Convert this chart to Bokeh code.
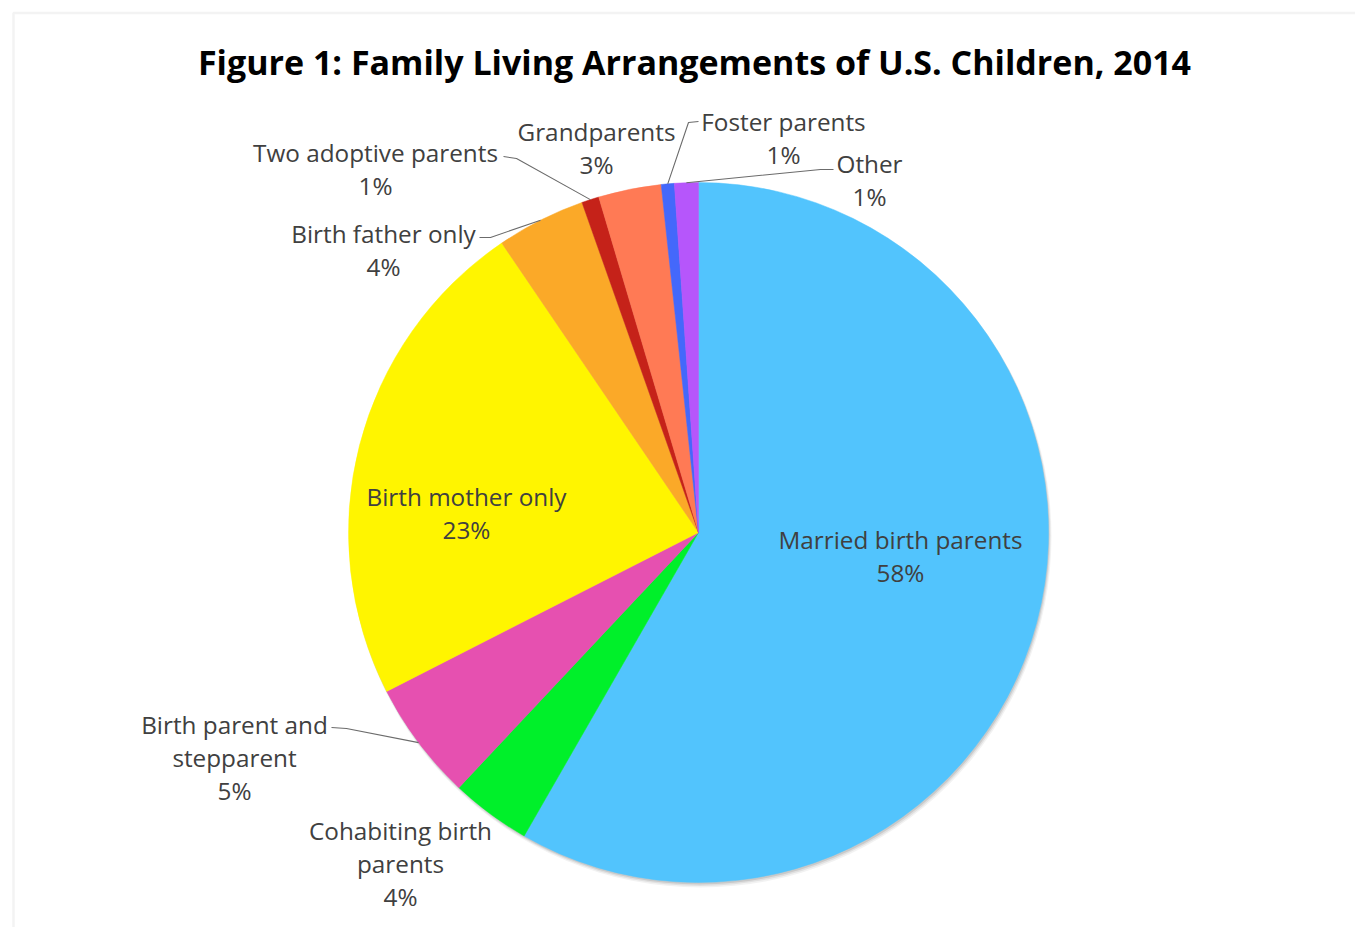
import math
from bokeh.plotting import figure
from bokeh.models import Range1d, ColumnDataSource, BoxAnnotation
from bokeh.core.properties import value
from bokeh.embed import file_html
from bokeh.resources import INLINE

# ---------------- data ----------------
title_text = "Figure 1: Family Living Arrangements of U.S. Children, 2014"
categories = ["Married birth parents", "Cohabiting birth\nparents", "Birth parent and\nstepparent",
              "Birth mother only", "Birth father only", "Two adoptive parents",
              "Grandparents", "Foster parents", "Other"]
shares = [58.3, 3.7, 5.5, 23.0, 4.1, 0.8, 2.9, 0.6, 1.1]
pct_labels = ["58%", "4%", "5%", "23%", "4%", "1%", "3%", "1%", "1%"]
colors = ["#52C4FD", "#00F02A", "#E650B0", "#FFF500", "#FBA928", "#C52219",
          "#FF7A55", "#4468FB", "#B656FB"]

# ---------------- layout (screen pixels) ----------------
W, H = 1355, 927
def X(px):
    return px
def Y(py):
    return H - py

CX, CY, R = 698, 532, 350
# first-line centre of each label (screen px)
label_pos = [(900, 539), (400, 830), (234, 724), (466, 496), (383, 233),
             (375, 152), (596, 131), (783, 121), (869, 163)]
LINE_GAP = 33
# leader lines: (start, knee) in screen px, end computed on the circle
leaders = {2: ((331, 727), (346, 728)),
           4: ((479, 237), (490, 237)),
           5: ((503, 156), (516, 158)),
           7: ((698, 121), (688, 122)),
           8: ((833, 169), (820, 169))}

p = figure(width=W, height=H, output_backend="svg", toolbar_location=None,
           x_range=Range1d(0, W), y_range=Range1d(0, H), min_border=0)
p.axis.visible = False
p.grid.visible = False
p.outline_line_color = None
p.background_fill_color = "white"
p.border_fill_color = "white"

# frame border (light grey)
p.add_layout(BoxAnnotation(left=X(13), right=X(1400), top=Y(12.5), bottom=Y(1000),
                           fill_alpha=0, line_color="#d6d6d6", line_width=2.5))

# wedges (clockwise from 12 o'clock)
total = sum(shares)
starts, ends, mids = [], [], []
cum = 0.0
for s in shares:
    a0 = cum / total * 2 * math.pi
    cum += s
    a1 = cum / total * 2 * math.pi
    starts.append(math.pi / 2 - a1)
    ends.append(math.pi / 2 - a0)
    mids.append(math.pi / 2 - (a0 + a1) / 2)

# soft shadow
for off, rad, alpha in [(4, R + 1, 0.05), (3, R + 0.5, 0.07), (2, R, 0.10)]:
    p.circle(x=[X(CX) + off * 0.5], y=[Y(CY) - off], radius=rad, radius_units="data",
             fill_color="#000000", fill_alpha=alpha, line_color=None)

src = ColumnDataSource(dict(start=starts, end=ends, color=colors))
p.wedge(x=X(CX), y=Y(CY), radius=R, radius_units="data", start_angle="start",
        end_angle="end", fill_color="color", line_color="color", line_width=0.5,
        source=src)

# leader lines
lx, ly = [], []
for i, (st, kn) in leaders.items():
    ex = X(CX) + R * math.cos(mids[i])
    ey = Y(CY) + R * math.sin(mids[i])
    lx.append([X(st[0]), X(kn[0]), ex])
    ly.append([Y(st[1]), Y(kn[1]), ey])
p.multi_line(xs=lx, ys=ly, line_color="#6b6b6b", line_width=1.1)

# data labels
tx, ty, tt = [], [], []
for i, name in enumerate(categories):
    lines = name.split("\n") + [pct_labels[i]]
    px, py = label_pos[i]
    for k, t in enumerate(lines):
        tx.append(X(px))
        ty.append(Y(py + k * LINE_GAP))
        tt.append(t)
p.text(x=tx, y=ty, text=tt, text_align="center", text_baseline="middle",
       text_font=value("Open Sans"), text_font_size="24.3px", text_color="#404040")

# title
p.text(x=[X(694)], y=[Y(61)], text=[title_text], text_align="center",
       text_baseline="middle", text_font=value("Open Sans"), text_font_size="34px",
       text_font_style="bold", text_color="#000000")

open("out.html", "w").write(file_html(p, INLINE))
